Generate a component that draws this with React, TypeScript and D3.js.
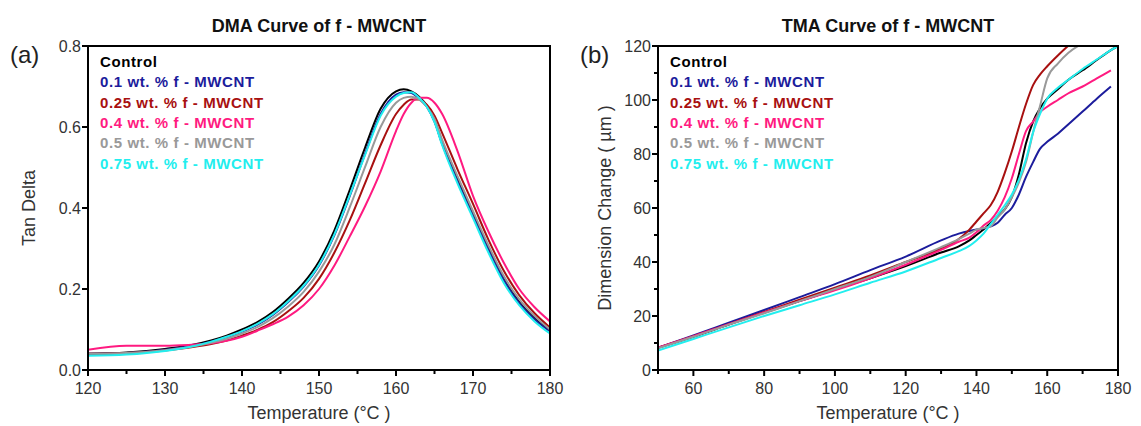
import React from 'react';
import * as d3 from 'd3';

// ---------- Data ----------
const seriesNames = [
  'Control',
  '0.1 wt. % f - MWCNT',
  '0.25 wt. % f - MWCNT',
  '0.4 wt. % f - MWCNT',
  '0.5 wt. % f - MWCNT',
  '0.75 wt. % f - MWCNT',
];
const seriesColors = ['#000000', '#1c1c9c', '#a81010', '#ff1a80', '#999999', '#22eeee'];

// DMA: tan delta vs temperature
const dmaTemps = [120, 125, 130, 133, 136, 138, 140, 142, 144, 146, 148, 150, 152, 154, 156, 158, 160, 161, 162, 163, 164, 165, 166, 168, 170, 172, 174, 176, 178, 180];
const dmaControl = [0.040, 0.043, 0.052, 0.060, 0.073, 0.085, 0.100, 0.118, 0.143, 0.176, 0.215, 0.268, 0.345, 0.445, 0.550, 0.645, 0.688, 0.693, 0.688, 0.675, 0.653, 0.615, 0.560, 0.470, 0.385, 0.300, 0.225, 0.168, 0.128, 0.097];
const dma01 = [0.040, 0.042, 0.050, 0.058, 0.070, 0.081, 0.095, 0.112, 0.136, 0.168, 0.206, 0.258, 0.333, 0.430, 0.535, 0.632, 0.680, 0.686, 0.684, 0.670, 0.650, 0.613, 0.558, 0.465, 0.380, 0.297, 0.222, 0.165, 0.125, 0.095];
const dma025 = [0.040, 0.042, 0.048, 0.055, 0.064, 0.073, 0.085, 0.099, 0.118, 0.145, 0.178, 0.225, 0.290, 0.370, 0.462, 0.555, 0.632, 0.655, 0.668, 0.668, 0.655, 0.628, 0.585, 0.495, 0.410, 0.322, 0.245, 0.185, 0.140, 0.105];
const dma04 = [0.050, 0.060, 0.060, 0.062, 0.066, 0.072, 0.082, 0.097, 0.113, 0.132, 0.160, 0.200, 0.258, 0.330, 0.405, 0.490, 0.590, 0.632, 0.660, 0.672, 0.672, 0.660, 0.632, 0.540, 0.430, 0.342, 0.265, 0.200, 0.155, 0.120];
const dma05 = [0.040, 0.042, 0.049, 0.056, 0.067, 0.077, 0.090, 0.106, 0.128, 0.157, 0.193, 0.243, 0.310, 0.402, 0.502, 0.600, 0.660, 0.672, 0.675, 0.668, 0.650, 0.620, 0.568, 0.478, 0.392, 0.308, 0.232, 0.175, 0.133, 0.100];
const dma075 = [0.035, 0.038, 0.047, 0.056, 0.070, 0.082, 0.096, 0.114, 0.138, 0.170, 0.208, 0.260, 0.335, 0.432, 0.532, 0.628, 0.675, 0.684, 0.686, 0.672, 0.650, 0.612, 0.555, 0.460, 0.375, 0.290, 0.215, 0.160, 0.120, 0.090];

// TMA: dimension change vs temperature
const tmaTemps = [50, 60, 70, 80, 90, 100, 110, 120, 130, 135, 138, 140, 142, 144, 146, 148, 150, 152, 154, 156, 158, 160, 163, 166, 170, 174, 178, 180];
const tmaControl = [8.2, 12.3, 16.8, 21.2, 25.5, 29.8, 34.0, 38.5, 43.5, 45.8, 48.0, 50.0, 52.0, 54.5, 57.0, 59.5, 64.0, 72.5, 84.0, 92.0, 97.0, 100.5, 104.0, 107.5, 111.0, 114.8, 118.5, 120.0];
const tma01 = [8.2, 12.8, 17.5, 22.2, 27.0, 31.8, 37.0, 42.0, 48.0, 50.5, 51.5, 52.0, 52.5, 53.2, 54.5, 57.5, 60.0, 65.0, 71.5, 77.0, 82.0, 84.5, 87.5, 91.0, 95.7, 100.5, 105.0, null];
const tma025 = [8.2, 12.5, 17.0, 21.5, 26.0, 30.5, 35.0, 40.0, 45.0, 48.5, 52.0, 55.0, 58.0, 61.0, 66.0, 73.0, 81.0, 90.0, 98.5, 105.5, 109.5, 112.5, 116.5, 120.2, null, null, null, null];
const tma04 = [8.3, 12.5, 17.0, 21.3, 25.5, 29.5, 34.0, 39.0, 44.5, 47.5, 49.0, 51.0, 53.5, 55.5, 59.0, 64.0, 71.0, 80.0, 88.5, 92.0, 95.5, 97.5, 100.0, 102.5, 105.0, 108.0, 111.0, null];
const tma05 = [8.0, 12.3, 16.8, 21.0, 25.5, 30.0, 34.5, 40.0, 45.5, 48.5, 50.5, 52.0, 52.6, 53.2, 56.5, 59.5, 64.0, 69.5, 77.0, 88.0, 98.0, 108.0, 113.5, 117.5, 121.0, null, null, null];
const tma075 = [7.2, 11.5, 15.8, 20.0, 24.0, 28.0, 32.3, 36.5, 41.5, 44.0, 46.0, 48.0, 50.5, 54.0, 57.5, 61.0, 65.0, 70.5, 78.0, 88.0, 95.0, 100.5, 104.5, 107.5, 111.5, 115.0, 118.5, 120.0];

const dmaSeries = [dmaControl, dma01, dma025, dma04, dma05, dma075];
const tmaSeries = [tmaControl, tma01, tma025, tma04, tma05, tma075];

const dmaXTicks = [120, 130, 140, 150, 160, 170, 180];
const dmaXMinor = [125, 135, 145, 155, 165, 175];
const dmaYTicks = [0.0, 0.2, 0.4, 0.6, 0.8];
const dmaYMinor: number[] = [];
const tmaXTicks = [60, 80, 100, 120, 140, 160, 180];
const tmaXMinor = [50, 70, 90, 110, 130, 150, 170];
const tmaYTicks = [0, 20, 40, 60, 80, 100, 120];
const tmaYMinor = [10, 30, 50, 70, 90, 110];

const FONT = 'Arial, "Liberation Sans", Helvetica, sans-serif';

type PanelProps = {
  id: string;
  left: number; right: number; top: number; bottom: number;
  xDomain: [number, number]; yDomain: [number, number];
  xTicks: number[]; xMinor: number[]; yTicks: number[]; yMinor: number[];
  yFmt: (v: number) => string;
  temps: number[]; series: (number | null)[][];
  title: string; letter: string; letterX: number;
  yLabel: string; yLabelX: number;
};

function Panel(p: PanelProps) {
  const x = d3.scaleLinear().domain(p.xDomain).range([p.left, p.right]);
  const y = d3.scaleLinear().domain(p.yDomain).range([p.bottom, p.top]);
  const line = d3.line<[number, number | null]>()
    .defined(d => d[1] !== null)
    .x(d => x(d[0]))
    .y(d => y(d[1] as number))
    .curve(d3.curveMonotoneX);
  const cx = (p.left + p.right) / 2;
  const cy = (p.top + p.bottom) / 2;
  const clipId = 'clip-' + p.id;
  return (
    <g>
      <defs>
        <clipPath id={clipId}>
          <rect x={p.left} y={p.top} width={p.right - p.left} height={p.bottom - p.top} />
        </clipPath>
      </defs>
      <text x={cx} y={32} textAnchor="middle" fontFamily={FONT} fontWeight="bold" fontSize={18} fill="#111">{p.title}</text>
      <text x={p.letterX} y={63} fontFamily={FONT} fontSize={24} fill="#222">{p.letter}</text>
      <g clipPath={`url(#${clipId})`}>
        {p.series.map((vals, i) => (
          <path key={i}
            d={line(p.temps.map((t, j) => [t, vals[j]] as [number, number | null])) || ''}
            fill="none" stroke={seriesColors[i]} strokeWidth={2} />
        ))}
      </g>
      <rect x={p.left} y={p.top} width={p.right - p.left} height={p.bottom - p.top}
        fill="none" stroke="#000" strokeWidth={2} />
      {p.xTicks.map(t => (
        <g key={'xt' + t}>
          <line x1={x(t)} x2={x(t)} y1={p.bottom} y2={p.bottom + 6} stroke="#000" strokeWidth={2} />
          <text x={x(t)} y={p.bottom + 24} textAnchor="middle" fontFamily={FONT} fontSize={16} fill="#333">{t}</text>
        </g>
      ))}
      {p.xMinor.map(t => (
        <line key={'xm' + t} x1={x(t)} x2={x(t)} y1={p.bottom} y2={p.bottom + 4} stroke="#000" strokeWidth={2} />
      ))}
      {p.yTicks.map(t => (
        <g key={'yt' + t}>
          <line x1={p.left - 6} x2={p.left} y1={y(t)} y2={y(t)} stroke="#000" strokeWidth={2} />
          <text x={p.left - 7} y={y(t) + 6} textAnchor="end" fontFamily={FONT} fontSize={16} fill="#333">{p.yFmt(t)}</text>
        </g>
      ))}
      {p.yMinor.map(t => (
        <line key={'ym' + t} x1={p.left - 4} x2={p.left} y1={y(t)} y2={y(t)} stroke="#000" strokeWidth={2} />
      ))}
      <text x={cx} y={419} textAnchor="middle" fontFamily={FONT} fontSize={18} fill="#333">Temperature (°C )</text>
      <text transform={`translate(${p.yLabelX},${cy}) rotate(-90)`} textAnchor="middle" fontFamily={FONT} fontSize={18} fill="#333">{p.yLabel}</text>
      {seriesNames.map((n, i) => (
        <text key={'lg' + i} x={p.left + 12} y={67 + i * 20.3} fontFamily={FONT} fontWeight="bold"
          fontSize={15} letterSpacing={0.6} fill={seriesColors[i]}>{n}</text>
      ))}
    </g>
  );
}

export default function App() {
  return (
    <svg width={1141} height={426} style={{ position: 'absolute', left: 0, top: 0, background: '#fff' }}>
      <rect width={1141} height={426} fill="#fff" />
      <Panel id="a" left={88} right={550} top={46} bottom={370}
        xDomain={[120, 180]} yDomain={[0, 0.8]}
        xTicks={dmaXTicks} xMinor={dmaXMinor} yTicks={dmaYTicks} yMinor={dmaYMinor}
        yFmt={v => v.toFixed(1)}
        temps={dmaTemps} series={dmaSeries}
        title="DMA Curve of f - MWCNT" letter="(a)" letterX={10}
        yLabel="Tan Delta" yLabelX={35} />
      <Panel id="b" left={658} right={1118} top={46} bottom={370}
        xDomain={[50, 180]} yDomain={[0, 120]}
        xTicks={tmaXTicks} xMinor={tmaXMinor} yTicks={tmaYTicks} yMinor={tmaYMinor}
        yFmt={v => String(v)}
        temps={tmaTemps} series={tmaSeries}
        title="TMA Curve of f - MWCNT" letter="(b)" letterX={580}
        yLabel="Dimension Change ( µm )" yLabelX={611} />
    </svg>
  );
}
